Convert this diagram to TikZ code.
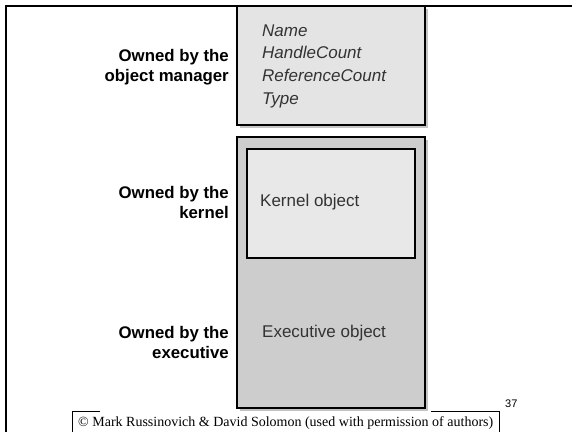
\documentclass[tikz,border=0pt]{standalone}
\usepackage{fontspec}
\setmainfont{Liberation Sans}
\newfontfamily\copyfont{Liberation Serif}
\definecolor{boxlight}{HTML}{E4E4E4}
\definecolor{boxdark}{HTML}{CDCDCD}
\definecolor{innerfill}{HTML}{E8E8E8}
\definecolor{shadowc}{HTML}{C4C4C4}
\definecolor{txtc}{HTML}{333333}
\begin{document}
\begin{tikzpicture}[x=1pt,y=-1pt,
  lbl/.style={font=\fontsize{16.8}{20}\selectfont\bfseries, align=right, anchor=east, inner sep=0pt},
  boxtxt/.style={font=\fontsize{17}{22.7}\selectfont, text=txtc, inner sep=0pt, anchor=west, align=left},
  frameline/.style={line width=2.5pt, line join=miter},
  boxline/.style={line width=2.5pt, draw=black},
  innerline/.style={line width=2pt, draw=black},
  shadowbox/.style={fill=shadowc}
]
\useasboundingbox (0,0) rectangle (572,431);
% outer frame
\draw[frameline] (6,445) -- (6,6) -- (590,6);
% copyright frame (partly hidden behind the figure)
\draw[line width=1pt] (100,411) -- (72,411) -- (72,440);
\draw[line width=1pt] (431,411) -- (499,411) -- (499,440);
\node[font=\copyfont\fontsize{14}{16}\selectfont, anchor=west, inner sep=0pt] (copy) at (78,423)
  {\textcopyright{} Mark Russinovich \& David Solomon (used with permission of authors)};
\node[font=\fontsize{11}{13}\selectfont, anchor=west, inner sep=0pt] (page) at (505,404) {37};
% top box
\fill[shadowc] (240,9) rectangle (428,128);
\draw[boxline, fill=boxlight] (237,6) rectangle (425,125);
% big box
\fill[shadowc] (240,140) rectangle (428,411);
\draw[boxline, fill=boxdark] (237,137) rectangle (425,408);
% inner box
\draw[innerline, fill=innerfill] (247,149) rectangle (415,258);
% texts
\node[boxtxt] (attrs) at (262,66) {\itshape Name\\\itshape HandleCount\\\itshape ReferenceCount\\\itshape Type};
\node[boxtxt] (kobj) at (260,202) {Kernel object};
\node[boxtxt] (eobj) at (262,333) {Executive object};
\node[lbl] (om) at (229,67) {Owned by the\\object manager};
\node[lbl] (ok) at (229,202) {Owned by the\\kernel};
\node[lbl] (oe) at (229,342) {Owned by the\\executive};
\end{tikzpicture}
\end{document}
